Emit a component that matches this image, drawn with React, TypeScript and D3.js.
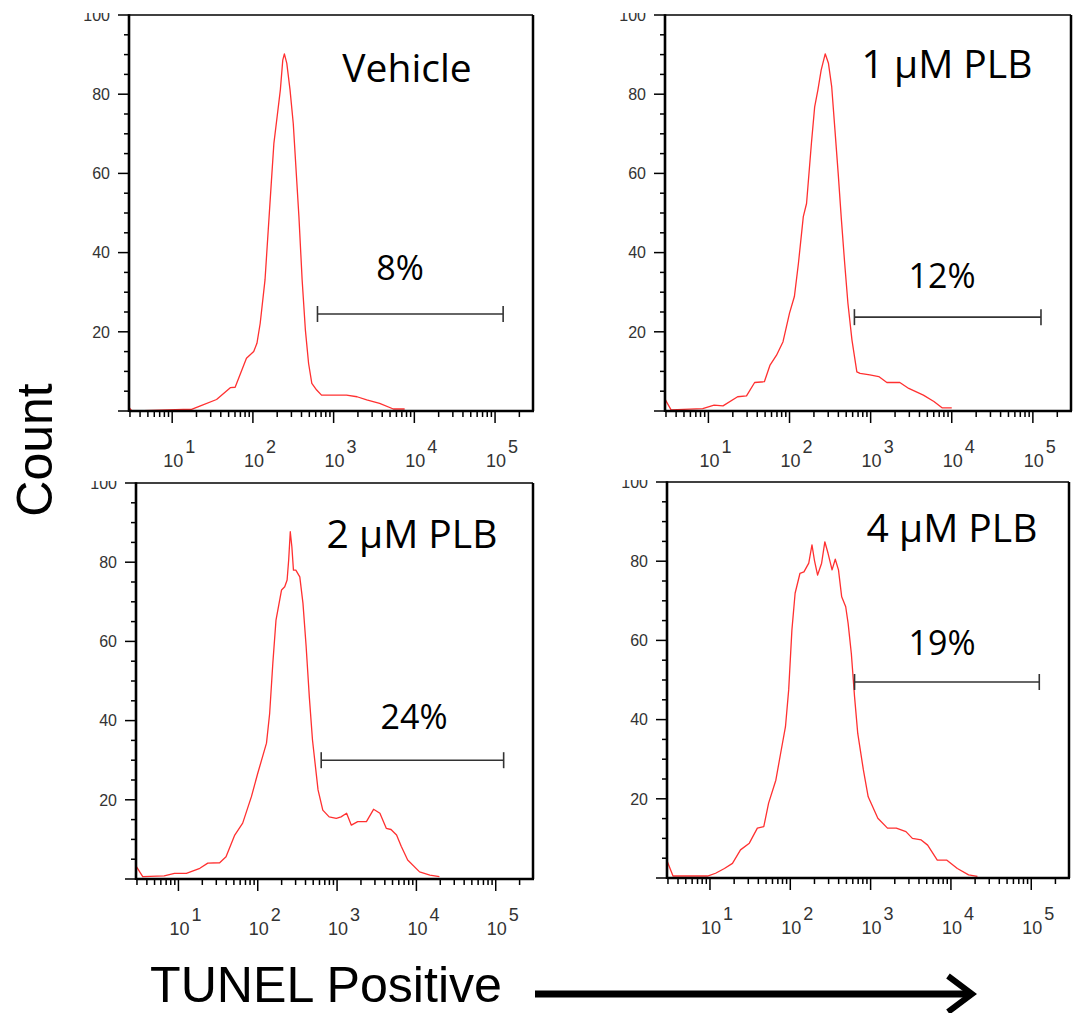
import React from "react";
import * as d3 from "d3";

// ---------- data ----------
const panelTitles = ["Vehicle", "1 μM PLB", "2 μM PLB", "4 μM PLB"];
const gatePercents = ["8%", "12%", "24%", "19%"];
const gateExpRange = [2.8, 5.1]; // log10 TUNEL intensity
const gateCounts = [24.5, 23.7, 30, 49.5];

const yTickValues = [20, 40, 60, 80, 100];
const xLabelExponents = [1, 2, 3, 4, 5];

// log10 intensity / count pairs
const vehicleExp = [0.47, 0.5, 0.55, 1.14, 1.24, 1.35, 1.55, 1.72, 1.78, 1.92, 2.01, 2.05, 2.09, 2.15, 2.19, 2.23, 2.26, 2.3, 2.34, 2.37, 2.39, 2.42, 2.46, 2.5, 2.53, 2.57, 2.61, 2.65, 2.69, 2.73, 2.79, 2.85, 3.16, 3.29, 3.41, 3.57, 3.74, 3.88];
const vehicleCount = [0.8, 0, 0, 0.4, 0.4, 1.3, 2.9, 5.9, 6.0, 13.3, 15.0, 17.1, 22.1, 33.1, 45.7, 58.3, 67.6, 74.3, 81.1, 88.6, 90.2, 87.8, 81.1, 72.6, 62.5, 49.1, 33.1, 20.5, 12.0, 7.0, 5.3, 4.0, 4.0, 3.6, 2.8, 1.9, 0.5, 0.5];

const plb1Exp = [0.47, 0.54, 0.93, 1.07, 1.18, 1.36, 1.47, 1.57, 1.69, 1.76, 1.84, 1.92, 2.0, 2.06, 2.11, 2.17, 2.21, 2.27, 2.31, 2.35, 2.39, 2.44, 2.48, 2.52, 2.56, 2.6, 2.64, 2.68, 2.72, 2.77, 2.83, 2.87, 2.99, 3.1, 3.2, 3.36, 3.47, 3.65, 3.78, 3.88, 4.0];
const plb1Count = [2.8, 0.3, 0.6, 1.5, 1.3, 3.6, 3.8, 7.2, 7.4, 11.6, 14.1, 17.5, 24.7, 28.9, 37.3, 49.1, 52.4, 67.6, 76.8, 81.1, 86.1, 90.2, 87.8, 81.9, 71.0, 60.0, 48.2, 37.3, 27.2, 17.9, 9.9, 9.5, 9.1, 8.7, 7.2, 7.2, 5.7, 4.0, 2.4, 0.8, 0.8];

const plb2Exp = [0.47, 0.55, 0.82, 0.95, 1.1, 1.27, 1.37, 1.52, 1.6, 1.71, 1.81, 1.92, 2.0, 2.11, 2.15, 2.19, 2.23, 2.3, 2.34, 2.37, 2.39, 2.41, 2.43, 2.45, 2.48, 2.53, 2.57, 2.61, 2.65, 2.69, 2.76, 2.82, 2.9, 2.99, 3.05, 3.12, 3.18, 3.26, 3.37, 3.46, 3.54, 3.62, 3.68, 3.75, 3.81, 3.89, 4.04, 4.17, 4.29];
const plb2Count = [3.1, 0.6, 0.8, 1.4, 1.4, 2.7, 4.0, 4.1, 5.6, 11.1, 14.1, 20.8, 26.7, 34.3, 41.8, 54.5, 65.4, 73.0, 73.8, 75.5, 80.6, 87.7, 83.9, 78.0, 78.0, 76.3, 69.6, 58.7, 46.0, 35.1, 22.5, 17.4, 15.7, 15.3, 15.7, 16.6, 13.6, 14.5, 14.5, 17.6, 16.6, 12.8, 12.5, 11.1, 8.2, 4.8, 1.8, 1.0, 0.6];

const plb4Exp = [0.47, 0.54, 0.97, 1.07, 1.18, 1.28, 1.38, 1.49, 1.59, 1.67, 1.73, 1.82, 1.88, 1.94, 1.98, 2.02, 2.06, 2.12, 2.17, 2.23, 2.27, 2.3, 2.34, 2.39, 2.43, 2.47, 2.52, 2.56, 2.6, 2.64, 2.69, 2.72, 2.76, 2.8, 2.84, 2.91, 2.97, 3.09, 3.21, 3.32, 3.44, 3.52, 3.63, 3.71, 3.83, 3.95, 4.08, 4.22, 4.33];
const plb4Count = [4.1, 0.5, 0.5, 1.2, 2.4, 3.7, 7.1, 8.8, 12.6, 13.0, 18.9, 24.7, 31.5, 38.2, 47.5, 62.6, 71.9, 76.9, 77.3, 79.5, 84.1, 80.3, 76.5, 79.5, 84.9, 82.0, 77.8, 80.5, 77.8, 71.0, 68.5, 64.3, 56.7, 45.8, 36.5, 27.3, 20.5, 15.1, 12.6, 12.6, 11.7, 10.0, 9.6, 8.3, 4.5, 4.5, 2.4, 0.8, 0.4];

const seriesExp = [vehicleExp, plb1Exp, plb2Exp, plb4Exp];
const seriesCount = [vehicleCount, plb1Count, plb2Count, plb4Count];

// ---------- layout ----------
const W = 1078;
const H = 1013;
const X_EXP_DOMAIN = [0.465, 5.47];
const panels = [
  { x0: 129, x1: 533, yTop: 15, yBot: 411, title: [407, 82], pct: [400, 280] },
  { x0: 665, x1: 1071, yTop: 15, yBot: 411, title: [947, 78], pct: [942, 288] },
  { x0: 136, x1: 533, yTop: 483, yBot: 879, title: [412, 548], pct: [414, 729] },
  { x0: 667, x1: 1069, yTop: 482, yBot: 878, title: [952, 542], pct: [942, 655] },
];

const RED = "#ff3030";
const TICK_FONT = "'Liberation Sans', Arial, Helvetica, sans-serif";
const LABEL_FONT = "'Open Sans', 'Noto Sans', sans-serif";

function Panel({ idx }: { idx: number }) {
  const p = panels[idx];
  const x = d3
    .scaleLog()
    .domain([Math.pow(10, X_EXP_DOMAIN[0]), Math.pow(10, X_EXP_DOMAIN[1])])
    .range([p.x0, p.x1]);
  const y = d3.scaleLinear().domain([0, 100]).range([p.yBot, p.yTop]);

  const pts = seriesExp[idx].map((e, i) => [Math.pow(10, e), seriesCount[idx][i]] as [number, number]);
  const line = d3
    .line<[number, number]>()
    .x((d) => x(d[0]))
    .y((d) => y(d[1]));

  // x ticks
  const [lo, hi] = x.domain();
  const xTicks: { v: number; major: boolean }[] = [];
  for (let dec = 0; dec <= 5; dec++) {
    for (let m = 1; m <= 9; m++) {
      const v = m * Math.pow(10, dec);
      if (v >= lo * 0.999 && v <= hi) xTicks.push({ v, major: m === 1 && dec >= 1 });
    }
  }
  const yMinor = d3.range(5, 101, 5);

  const gx0 = x(Math.pow(10, gateExpRange[0]));
  const gx1 = x(Math.pow(10, gateExpRange[1]));
  const gy = y(gateCounts[idx]);
  const clipId = `yclip${idx}`;

  return (
    <g>
      <defs>
        <clipPath id={clipId}>
          <rect x={0} y={p.yTop - 2} width={p.x0} height={p.yBot - p.yTop + 20} />
        </clipPath>
      </defs>
      {/* histogram */}
      <path d={line(pts) || ""} fill="none" stroke={RED} strokeWidth={1.3} strokeLinejoin="round" />
      {/* frame */}
      <line x1={p.x0} x2={p.x1} y1={p.yTop} y2={p.yTop} stroke="#000" strokeWidth={1.5} />
      <line x1={p.x1} x2={p.x1} y1={p.yTop} y2={p.yBot} stroke="#000" strokeWidth={2.5} />
      <line x1={p.x0} x2={p.x1 + 1} y1={p.yBot} y2={p.yBot} stroke="#000" strokeWidth={2.5} />
      <line x1={p.x0} x2={p.x0} y1={p.yTop - 0.75} y2={p.yBot + 1} stroke="#000" strokeWidth={2.6} />
      {/* y ticks */}
      {yMinor.map((v) => {
        const major = v % 20 === 0;
        return (
          <line
            key={`yt${v}`}
            x1={p.x0 - (major ? 11 : 5)}
            x2={p.x0}
            y1={y(v)}
            y2={y(v)}
            stroke="#000"
            strokeWidth={1.5}
          />
        );
      })}
      <line x1={p.x0 - 11} x2={p.x0} y1={y(0)} y2={y(0)} stroke="#000" strokeWidth={1.5} />
      <g clipPath={`url(#${clipId})`}>
        {yTickValues.map((v) => (
          <text
            key={`yl${v}`}
            x={p.x0 - 19}
            y={y(v)}
            dy="0.36em"
            textAnchor="end"
            fontFamily={TICK_FONT}
            fontSize={16}
            fill="#333"
          >
            {v}
          </text>
        ))}
      </g>
      {/* x ticks */}
      {xTicks.map((t, i) => (
        <line
          key={`xt${i}`}
          x1={x(t.v)}
          x2={x(t.v)}
          y1={p.yBot}
          y2={p.yBot + (t.major ? 12 : 6)}
          stroke="#000"
          strokeWidth={1.5}
        />
      ))}
      {xLabelExponents.map((e) => {
        const tx = x(Math.pow(10, e));
        return (
          <g key={`xl${e}`} fontFamily={TICK_FONT} fontSize={18} fill="#333">
            <text x={tx + 1} y={p.yBot + 56} textAnchor="middle">
              10
            </text>
            <text x={tx + 13} y={p.yBot + 42} textAnchor="start">
              {e}
            </text>
          </g>
        );
      })}
      {/* gate */}
      <g stroke="#333" strokeWidth={1.6}>
        <line x1={gx0} x2={gx1} y1={gy} y2={gy} />
        <line x1={gx0} x2={gx0} y1={gy - 8} y2={gy + 8} />
        <line x1={gx1} x2={gx1} y1={gy - 8} y2={gy + 8} />
      </g>
      <text x={p.pct[0]} y={p.pct[1]} textAnchor="middle" fontFamily={LABEL_FONT} fontSize={34} fill="#000">
        {gatePercents[idx]}
      </text>
      <text x={p.title[0]} y={p.title[1]} textAnchor="middle" fontFamily={LABEL_FONT} fontSize={39} fill="#000">
        {panelTitles[idx]}
      </text>
    </g>
  );
}

export default function App() {
  return (
    <svg
      width={W}
      height={H}
      viewBox={`0 0 ${W} ${H}`}
      style={{ position: "absolute", left: 0, top: 0, background: "#fff" }}
    >
      <rect x={0} y={0} width={W} height={H} fill="#fff" />
      {panels.map((_, i) => (
        <Panel key={i} idx={i} />
      ))}
      <text
        transform="translate(52,450) rotate(-90)"
        textAnchor="middle"
        fontFamily={TICK_FONT}
        fontSize={50}
        fill="#000"
      >
        Count
      </text>
      <text
        x={150}
        y={1002}
        fontFamily={TICK_FONT}
        fontSize={50}
        fill="#000"
        textLength={352}
        lengthAdjust="spacingAndGlyphs"
      >
        TUNEL Positive
      </text>
      <line x1={535} x2={972} y1={994} y2={994} stroke="#000" strokeWidth={7} />
      <polyline
        points="948,976 972,994 948,1012"
        fill="none"
        stroke="#000"
        strokeWidth={6}
        strokeLinecap="butt"
        strokeLinejoin="miter"
      />
    </svg>
  );
}
